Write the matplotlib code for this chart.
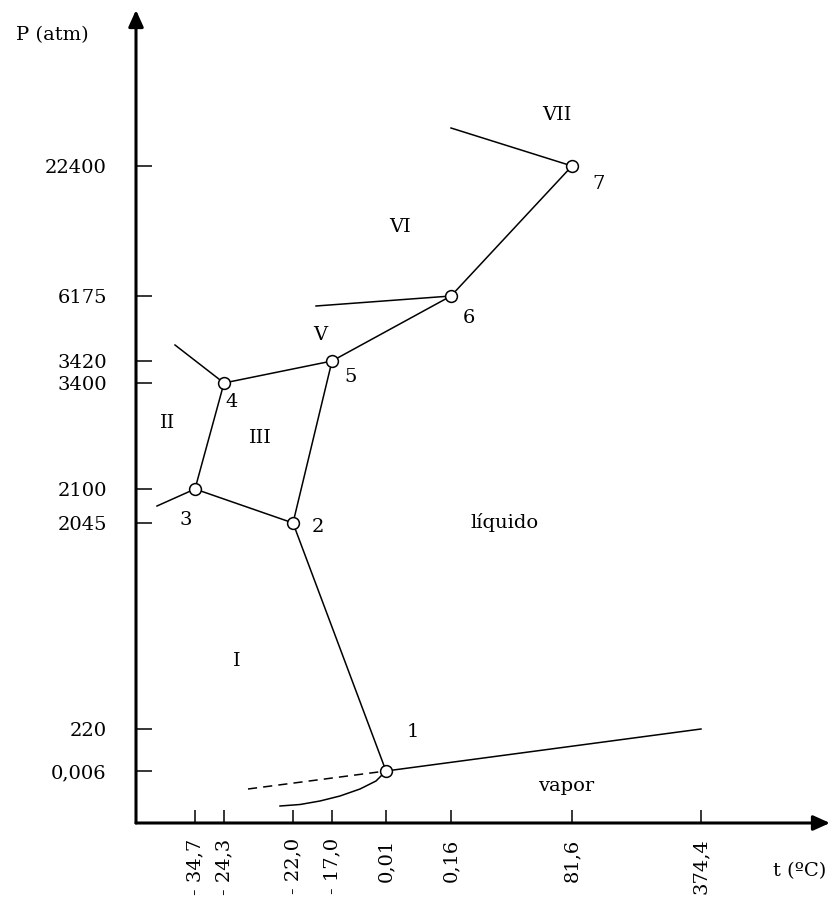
import numpy as np
import matplotlib
matplotlib.use('Agg')
import matplotlib.pyplot as plt

plt.rcParams['font.family'] = ['DejaVu Serif']

# 刻度（示意图，刻度不成比例）
t_labels = ['- 34,7', '- 24,3', '- 22,0', '- 17,0', '0,01', '0,16', '81,6', '374,4']
t_pos = [59, 88, 157, 196, 250, 315, 436, 565]
p_labels = ['22400', '6175', '3420', '3400', '2100', '2045', '220', '0,006']
p_pos = [657, 527, 462, 440, 334, 300, 94, 52]

# 三相点：(t刻度序号, P刻度序号)
pt_names = ['1', '2', '3', '4', '5', '6', '7']
pt_t = [4, 2, 0, 1, 3, 5, 6]
pt_p = [7, 5, 4, 3, 2, 1, 0]

# 相界线（点序号之间）
edges = [(0, 1), (1, 2), (2, 3), (3, 4), (1, 4), (4, 5), (5, 6)]
# 从三相点伸出的短线 (点序号, 终点x, 终点y)
stubs = [(6, 315, 695), (5, 180, 517), (3, 39, 478), (2, 21, 317)]

# 升华曲线和过冷液体虚线
sub_x = [144, 164, 184, 204, 224, 240, 250]
sub_y = [17, 18.5, 22, 27, 34, 42, 52]
dash_x = [112, 250]
dash_y = [34, 52]

regions = ['VII', 'VI', 'V', 'II', 'III', 'I', 'líquido', 'vapor']
region_xy = [(421, 708), (264, 596), (184, 488), (32, 400), (124, 385),
             (101, 162), (369, 301), (430, 37)]
num_xy = [(277, 91), (182, 296), (50, 303), (96, 421), (215, 446),
          (333, 505), (463, 639)]

fig = plt.figure(figsize=(8.39, 9.05), dpi=100)
ax = fig.add_axes([136 / 839, 82 / 905, 694 / 839, 813 / 905])
ax.set_xlim(0, 694)
ax.set_ylim(0, 813)
for s in ['top', 'right', 'left', 'bottom']:
    ax.spines[s].set_visible(False)

px = [t_pos[i] for i in pt_t]
py = [p_pos[j] for j in pt_p]

for a, b in edges:
    ax.plot([px[a], px[b]], [py[a], py[b]], color='black', lw=1.1, zorder=2)
for k, ex, ey in stubs:
    ax.plot([px[k], ex], [py[k], ey], color='black', lw=1.1, zorder=2)
# 汽化曲线到临界点
ax.plot([px[0], t_pos[7]], [py[0], p_pos[6]], color='black', lw=1.1, zorder=2)
ax.plot(sub_x, sub_y, color='black', lw=1.1, zorder=2)
ax.plot(dash_x, dash_y, color='black', lw=1.1, ls=(0, (6, 4)), zorder=2)

ax.plot(px, py, 'o', ms=8.5, mfc='white', mec='black', mew=1.1, zorder=3)

for name, (x, y) in zip(pt_names, num_xy):
    ax.text(x, y, name, fontsize=14, ha='center', va='center')
for name, (x, y) in zip(regions, region_xy):
    ax.text(x, y, name, fontsize=14, ha='center', va='center')

# 坐标轴箭头
ax.annotate('', xy=(694, 0), xytext=(0, 0), annotation_clip=False,
            arrowprops=dict(arrowstyle='-|>,head_length=1.0,head_width=0.45',
                            color='black', lw=2.2, shrinkA=0, shrinkB=0))
ax.annotate('', xy=(0, 813), xytext=(0, 0), annotation_clip=False,
            arrowprops=dict(arrowstyle='-|>,head_length=1.0,head_width=0.45',
                            color='black', lw=2.2, shrinkA=0, shrinkB=0))

ax.set_xticks(t_pos, t_labels, rotation=90, fontsize=14)
ax.set_yticks(p_pos, p_labels, fontsize=14)
ax.tick_params(axis='x', direction='in', length=9.5, width=1.1, pad=11)
ax.tick_params(axis='y', direction='in', length=11.5, width=1.1, pad=21)

fig.text(52 / 839, 1 - 35 / 905, 'P (atm)', fontsize=14, ha='center', va='center')
fig.text(800 / 839, 1 - 871 / 905, 't (ºC)', fontsize=14, ha='center', va='center')

plt.savefig('out.png', dpi=100)
